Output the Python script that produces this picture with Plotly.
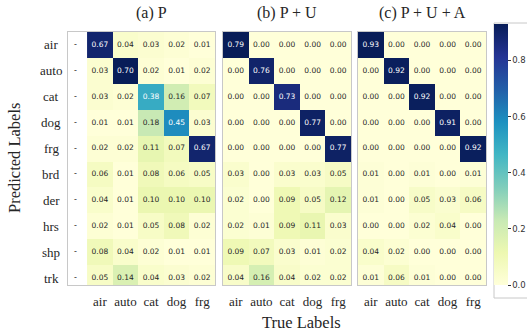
import plotly.graph_objects as go

# Class names
true_labels = ["air", "auto", "cat", "dog", "frg"]
pred_labels = ["air", "auto", "cat", "dog", "frg", "brd", "der", "hrs", "shp", "trk"]

# Confusion rates (rows: predicted, columns: true)
p_vals = [
    [0.67, 0.04, 0.03, 0.02, 0.01],
    [0.03, 0.70, 0.02, 0.01, 0.02],
    [0.03, 0.02, 0.38, 0.16, 0.07],
    [0.01, 0.01, 0.18, 0.45, 0.03],
    [0.02, 0.02, 0.11, 0.07, 0.67],
    [0.06, 0.01, 0.08, 0.06, 0.05],
    [0.04, 0.01, 0.10, 0.10, 0.10],
    [0.02, 0.01, 0.05, 0.08, 0.02],
    [0.08, 0.04, 0.02, 0.01, 0.01],
    [0.05, 0.14, 0.04, 0.03, 0.02],
]
pu_vals = [
    [0.79, 0.00, 0.00, 0.00, 0.00],
    [0.00, 0.76, 0.00, 0.00, 0.00],
    [0.00, 0.00, 0.73, 0.00, 0.00],
    [0.00, 0.00, 0.00, 0.77, 0.00],
    [0.00, 0.00, 0.00, 0.00, 0.77],
    [0.03, 0.00, 0.03, 0.03, 0.05],
    [0.02, 0.00, 0.09, 0.05, 0.12],
    [0.02, 0.01, 0.09, 0.11, 0.03],
    [0.09, 0.07, 0.03, 0.01, 0.02],
    [0.04, 0.16, 0.04, 0.02, 0.02],
]
pua_vals = [
    [0.93, 0.00, 0.00, 0.00, 0.00],
    [0.00, 0.92, 0.00, 0.00, 0.00],
    [0.00, 0.00, 0.92, 0.00, 0.00],
    [0.00, 0.00, 0.00, 0.91, 0.00],
    [0.00, 0.00, 0.00, 0.00, 0.92],
    [0.01, 0.00, 0.01, 0.00, 0.01],
    [0.01, 0.00, 0.05, 0.03, 0.06],
    [0.00, 0.00, 0.02, 0.04, 0.00],
    [0.04, 0.02, 0.00, 0.00, 0.00],
    [0.01, 0.06, 0.01, 0.00, 0.00],
]
titles = ["(a) P", "(b) P + U", "(c) P + U + A"]
cbar_ticks = [0.0, 0.2, 0.4, 0.6, 0.8]

W, H = 527, 333
YLGNBU = ["#ffffd9", "#edf8b1", "#c7e9b4", "#7fcdbb", "#41b6c4",
          "#1d91c0", "#225ea8", "#253494", "#081d58"]
colorscale = [[i / (len(YLGNBU) - 1), c] for i, c in enumerate(YLGNBU)]


def hex_rgb(h):
    h = h.lstrip("#")
    return [int(h[i:i + 2], 16) for i in (0, 2, 4)]


def scale_color(t):
    t = min(max(t, 0.0), 1.0)
    pos = t * (len(YLGNBU) - 1)
    i = min(int(pos), len(YLGNBU) - 2)
    f = pos - i
    a, b = hex_rgb(YLGNBU[i]), hex_rgb(YLGNBU[i + 1])
    return [a[k] + (b[k] - a[k]) * f for k in range(3)]


def luminance(rgb):
    out = []
    for c in rgb:
        c = c / 255.0
        out.append(c / 12.92 if c <= 0.03928 else ((c + 0.055) / 1.055) ** 2.4)
    return 0.2126 * out[0] + 0.7152 * out[1] + 0.0722 * out[2]


def px_x(p):
    return p / W


def px_y(p):
    return 1 - p / H


top_px, bot_px = 32, 285
domains = [(68, 215), (223, 351), (358, 486)]
x_ranges = [[-1.245, 4.5], [-0.5, 4.5], [-0.5, 4.5]]
y_range = [9.27, -0.5]
serif = "Liberation Serif"
sans = "DejaVu Sans"

fig = go.Figure()
for k, vals in enumerate([p_vals, pu_vals, pua_vals]):
    xa = "x" if k == 0 else f"x{k + 1}"
    ya = "y" if k == 0 else f"y{k + 1}"
    flat = [v for row in vals for v in row]
    zmin, zmax = min(flat), max(flat)
    fig.add_trace(go.Heatmap(
        z=vals, x=list(range(len(true_labels))), y=list(range(len(pred_labels))),
        colorscale=colorscale, zmin=zmin, zmax=zmax,
        showscale=(k == 2), xaxis=xa, yaxis=ya, hoverinfo="skip",
        colorbar=dict(
            x=px_x(494), xanchor="left", y=px_y(bot_px), yanchor="bottom",
            lenmode="pixels", len=bot_px - 24, thickness=14,
            thicknessmode="pixels", xpad=0, ypad=0, outlinewidth=0,
            tickvals=cbar_ticks, tickformat=".1f", ticks="outside",
            ticklen=3, tickcolor="#333333",
            tickfont=dict(family=sans, size=8.5, color="#333333"),
        ),
    ))
    # cell annotations
    tx, ty, tt, tc = [], [], [], []
    for r, row in enumerate(vals):
        for c, v in enumerate(row):
            t = (v - zmin) / (zmax - zmin)
            tx.append(c)
            ty.append(r)
            tt.append(f"{v:.2f}")
            tc.append("#262626" if luminance(scale_color(t)) > 0.408 else "#ffffff")
    fig.add_trace(go.Scatter(
        x=tx, y=ty, text=tt, mode="text", xaxis=xa, yaxis=ya,
        textfont=dict(family=sans, size=7.5, color=tc),
        hoverinfo="skip", showlegend=False, cliponaxis=True,
    ))

# tick dashes in the left margin of the first panel
fig.add_trace(go.Scatter(
    x=[-0.95] * len(pred_labels), y=list(range(len(pred_labels))),
    text=["-"] * len(pred_labels), mode="text", xaxis="x", yaxis="y",
    textfont=dict(family=sans, size=8, color="#262626"),
    hoverinfo="skip", showlegend=False,
))

layout = dict(
    width=W, height=H, margin=dict(l=0, r=0, t=0, b=0),
    paper_bgcolor="white", plot_bgcolor="white", showlegend=False,
)
for k in range(3):
    sx = "" if k == 0 else str(k + 1)
    x0, x1 = domains[k]
    layout[f"xaxis{sx}"] = dict(
        domain=[px_x(x0), px_x(x1)], range=x_ranges[k], anchor=f"y{sx}",
        tickvals=list(range(len(true_labels))), ticktext=true_labels,
        tickfont=dict(family=serif, size=13, color="#262626"),
        showgrid=False, zeroline=False, ticks="", ticklabelstandoff=4,
        showline=True, mirror=True, linecolor="#c8c8c8", linewidth=1,
    )
    layout[f"yaxis{sx}"] = dict(
        domain=[px_y(bot_px), px_y(top_px)], range=y_range, anchor=f"x{sx}",
        showticklabels=False, showgrid=False, zeroline=False, ticks="",
        showline=True, mirror=True, linecolor="#c8c8c8", linewidth=1,
    )
fig.update_layout(**layout)

ann = []
for k, t in enumerate(titles):
    x0, x1 = domains[k]
    cx = (x0 + x1) / 2 if k else (87 + x1) / 2
    ann.append(dict(text=t, x=px_x(cx), y=px_y(13), xref="paper", yref="paper",
                    showarrow=False, xanchor="center", yanchor="middle",
                    font=dict(family=serif, size=16, color="#262626")))
for i, lab in enumerate(pred_labels):
    ann.append(dict(text=lab, x=px_x(51), y=i, xref="paper", yref="y",
                    showarrow=False, xanchor="center", yanchor="middle",
                    font=dict(family=serif, size=13, color="#262626")))
ann.append(dict(text="Predicted Labels", x=px_x(14), y=px_y(158), xref="paper",
                yref="paper", showarrow=False, textangle=-90,
                xanchor="center", yanchor="middle",
                font=dict(family=serif, size=16.5, color="#262626")))
ann.append(dict(text="True Labels", x=px_x(301), y=px_y(322), xref="paper",
                yref="paper", showarrow=False, xanchor="center", yanchor="middle",
                font=dict(family=serif, size=16.5, color="#262626")))
fig.update_layout(annotations=ann)

# frame around the colour bar
fig.add_shape(type="rect", xref="paper", yref="paper",
              x0=px_x(494), x1=px_x(527.5), y0=px_y(298), y1=px_y(23),
              line=dict(color="#c8c8c8", width=1), layer="below")

fig.write_html("out.html")
